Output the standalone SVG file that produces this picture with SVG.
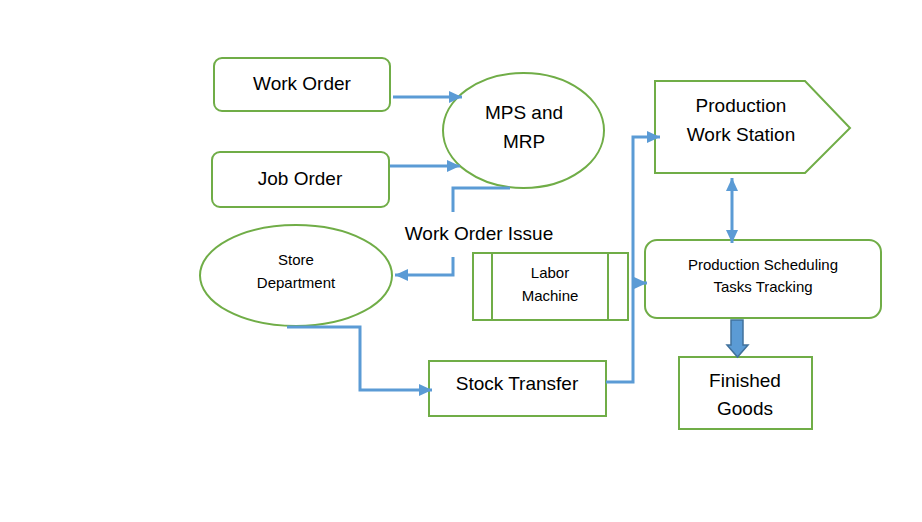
<svg xmlns="http://www.w3.org/2000/svg" width="922" height="522" viewBox="0 0 922 522">
<style>
.n{fill:#fff;stroke:#70AD47;stroke-width:2}
.t{font-family:"Liberation Sans",Arial,sans-serif;font-size:19px;fill:#000;text-anchor:middle}
.s{font-family:"Liberation Sans",Arial,sans-serif;font-size:15px;fill:#000;text-anchor:middle}
.c{fill:none;stroke:#5B9BD5;stroke-width:3}
</style>
<defs>
<marker id="ah" markerUnits="userSpaceOnUse" markerWidth="14" markerHeight="14" viewBox="0 0 14 14" refX="13" refY="7" orient="auto-start-reverse">
<path d="M0,1 L13,7 L0,13 Z" fill="#5B9BD5"/>
</marker>
</defs>
<rect width="922" height="522" fill="#fff"/>
<g id="work-order"><rect class="n" x="214" y="58" width="176" height="53" rx="8"/><text class="t" x="302" y="90">Work Order</text></g>
<g id="job-order"><rect class="n" x="212" y="152" width="177" height="55" rx="8"/><text class="t" x="300" y="185">Job Order</text></g>
<g id="mps-mrp"><ellipse class="n" cx="523.5" cy="130.5" rx="80.5" ry="57.5"/><text class="t" x="524" y="119">MPS and</text><text class="t" x="524" y="148">MRP</text></g>
<g id="store-dept"><ellipse class="n" cx="296" cy="275.5" rx="96" ry="50.5"/><text class="s" x="296" y="265">Store</text><text class="s" x="296" y="288">Department</text></g>
<g id="labor-machine"><rect class="n" x="473" y="253" width="155" height="67"/><line class="n" x1="492" y1="253" x2="492" y2="320"/><line class="n" x1="608" y1="253" x2="608" y2="320"/><text class="s" x="550" y="278">Labor</text><text class="s" x="550" y="301">Machine</text></g>
<g id="stock-transfer"><rect class="n" x="429" y="361" width="177" height="55"/><text class="t" x="517" y="390">Stock Transfer</text></g>
<g id="prod-work-station"><path class="n" d="M655,81 H805 L850,128 L805,173 H655 Z"/><text class="t" x="741" y="112">Production</text><text class="t" x="741" y="141">Work Station</text></g>
<g id="prod-scheduling"><rect class="n" x="645" y="240" width="236" height="78" rx="12"/><text class="s" x="763" y="270">Production Scheduling</text><text class="s" x="763" y="292">Tasks Tracking</text></g>
<g id="finished-goods"><rect class="n" x="679" y="357" width="133" height="72"/><text class="t" x="745" y="387">Finished</text><text class="t" x="745" y="415">Goods</text></g>
<g id="issue-label"><text class="t" x="479" y="240">Work Order Issue</text></g>
<g id="connectors">
<path class="c" d="M393,97 H462" marker-end="url(#ah)"/>
<path class="c" d="M390,166 H460" marker-end="url(#ah)"/>
<path class="c" d="M510,188 H453 V212"/>
<path class="c" d="M453,257 V275 H395" marker-end="url(#ah)"/>
<path class="c" d="M287,327 H360 V390 H432" marker-end="url(#ah)"/>
<path class="c" d="M606,382 H633 V137 H660" marker-end="url(#ah)"/>
<path class="c" d="M633,283 H647" marker-end="url(#ah)"/>
<path class="c" d="M732,178 V243" marker-start="url(#ah)" marker-end="url(#ah)"/>
<path d="M731,320 H743 V345 H748 L737.5,357 L727,345 H731 Z" fill="#5B9BD5" stroke="#41719C" stroke-width="1.5"/>
</g>
</svg>
